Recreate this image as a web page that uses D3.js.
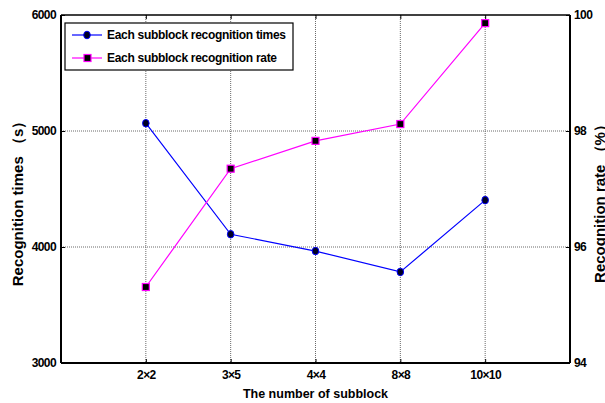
<!DOCTYPE html>
<html><head><meta charset="utf-8">
<script src="https://cdn.jsdelivr.net/npm/d3@7"></script>
<style>
body{margin:0;background:#fff;}
text{font-family:"Liberation Sans",Arial,sans-serif;font-weight:bold;fill:#000;}
</style></head>
<body><svg id="c" width="605" height="403"></svg>
<script>
const categories = ["2×2","3×5","4×4","8×8","10×10"];
const timesValues = [5067, 4110, 3965, 3785, 4404];
const rateValues = [95.31, 97.35, 97.83, 98.12, 99.86];
const leftTicks = [3000, 4000, 5000, 6000];
const rightTicks = [94, 96, 98, 100];
const seriesNames = ["Each subblock recognition times", "Each subblock recognition rate"];

const svg = d3.select("#c");
const L = 61, R = 570, T = 15, B = 363;
const x = d3.scaleLinear().domain([0, categories.length + 1]).range([L, R]);
const yL = d3.scaleLinear().domain([3000, 6000]).range([B, T]);
const yR = d3.scaleLinear().domain([94, 100]).range([B, T]);

// grid
const g = svg.append("g");
categories.forEach((c, i) => {
  g.append("line").attr("x1", x(i + 1)).attr("x2", x(i + 1)).attr("y1", T).attr("y2", B)
    .attr("stroke", "#6a6a6a").attr("stroke-width", 1).attr("stroke-dasharray", "1,1");
});
leftTicks.slice(1, -1).forEach(v => {
  g.append("line").attr("x1", L).attr("x2", R).attr("y1", yL(v)).attr("y2", yL(v))
    .attr("stroke", "#6a6a6a").attr("stroke-width", 1).attr("stroke-dasharray", "1,1");
});

function tickText(s) {
  s.selectAll("text").style("font-size", "12px").style("font-family", "Liberation Sans, Arial")
    .style("font-weight", "bold").style("letter-spacing", "-0.6px").attr("fill", "#000");
}

// axes
const ax = svg.append("g");
const xb = d3.axisBottom(x).tickValues(categories.map((c, i) => i + 1))
  .tickFormat((d) => categories[d - 1]).tickSizeInner(-4).tickSizeOuter(0).tickPadding(7);
ax.append("g").attr("transform", `translate(0,${B})`).call(xb)
  .call(s => s.select(".domain").remove()).call(tickText);
const xt = d3.axisTop(x).tickValues(categories.map((c, i) => i + 1)).tickFormat("").tickSizeInner(-4).tickSizeOuter(0);
ax.append("g").attr("transform", `translate(0,${T})`).call(xt).call(s => s.select(".domain").remove());

const yl = d3.axisLeft(yL).tickValues(leftTicks).tickSizeInner(-4).tickSizeOuter(0).tickPadding(5).tickFormat(d3.format("d"));
ax.append("g").attr("transform", `translate(${L},0)`).call(yl)
  .call(s => s.select(".domain").remove()).call(tickText);
const yr = d3.axisRight(yR).tickValues(rightTicks).tickSizeInner(-4).tickSizeOuter(0).tickPadding(4).tickFormat(d3.format("d"));
ax.append("g").attr("transform", `translate(${R},0)`).call(yr)
  .call(s => s.select(".domain").remove()).call(tickText);
ax.selectAll(".tick line").attr("stroke", "#000");

// frame
svg.append("line").attr("x1", L).attr("x2", R).attr("y1", T).attr("y2", T).attr("stroke", "#000").attr("stroke-width", 1.5);
svg.append("line").attr("x1", L).attr("x2", R).attr("y1", B).attr("y2", B).attr("stroke", "#000").attr("stroke-width", 2.2);
svg.append("line").attr("x1", L).attr("x2", L).attr("y1", T).attr("y2", B).attr("stroke", "#000").attr("stroke-width", 2);
svg.append("line").attr("x1", R).attr("x2", R).attr("y1", T).attr("y2", B).attr("stroke", "#000").attr("stroke-width", 2);

// series
const lineT = d3.line().x((d, i) => x(i + 1)).y(d => yL(d));
const lineR = d3.line().x((d, i) => x(i + 1)).y(d => yR(d));
svg.append("path").attr("d", lineT(timesValues)).attr("fill", "none").attr("stroke", "#0000ff").attr("stroke-width", 1.2);
svg.append("path").attr("d", lineR(rateValues)).attr("fill", "none").attr("stroke", "#ff00ff").attr("stroke-width", 1.2);
svg.selectAll(".mt").data(timesValues).enter().append("ellipse")
  .attr("cx", (d, i) => x(i + 1)).attr("cy", d => yL(d)).attr("rx", 3.3).attr("ry", 3.8)
  .attr("fill", "#000022").attr("stroke", "#0000ff").attr("stroke-width", 1);
svg.selectAll(".mr").data(rateValues).enter().append("rect")
  .attr("x", (d, i) => x(i + 1) - 3.5).attr("y", d => yR(d) - 3.5).attr("width", 7).attr("height", 7)
  .attr("fill", "#000").attr("stroke", "#ff00ff").attr("stroke-width", 1.2);

// legend
const lg = svg.append("g");
lg.append("rect").attr("x", 65).attr("y", 23).attr("width", 228).attr("height", 47)
  .attr("fill", "#fff").attr("stroke", "#000").attr("stroke-width", 1.2);
const ly = [35, 58];
lg.append("line").attr("x1", 72).attr("x2", 102).attr("y1", ly[0]).attr("y2", ly[0]).attr("stroke", "#0000ff").attr("stroke-width", 1.2);
lg.append("ellipse").attr("cx", 87).attr("cy", ly[0]).attr("rx", 3.3).attr("ry", 3.8).attr("fill", "#000022").attr("stroke", "#0000ff");
lg.append("line").attr("x1", 72).attr("x2", 102).attr("y1", ly[1]).attr("y2", ly[1]).attr("stroke", "#ff00ff").attr("stroke-width", 1.2);
lg.append("rect").attr("x", 84).attr("y", ly[1] - 3.5).attr("width", 7).attr("height", 7).attr("fill", "#000").attr("stroke", "#ff00ff").attr("stroke-width", 1.2);
seriesNames.forEach((n, i) => {
  lg.append("text").attr("x", 107).attr("y", ly[i]).attr("dy", "0.35em").style("font-size", "12px").style("letter-spacing", "-0.3px").text(n);
});

// axis titles
svg.append("text").attr("x", (L + R) / 2).attr("y", 398).attr("text-anchor", "middle").style("font-size", "12.5px").text("The number of subblock");
svg.append("text").attr("transform", "translate(23,200) rotate(-90)").attr("text-anchor", "middle").style("font-size", "15px").text("Recognition times （s）");
svg.append("text").attr("transform", "translate(605,200) rotate(-90)").attr("text-anchor", "middle").style("font-size", "15px").text("Recognition rate （%）");
</script></body></html>
